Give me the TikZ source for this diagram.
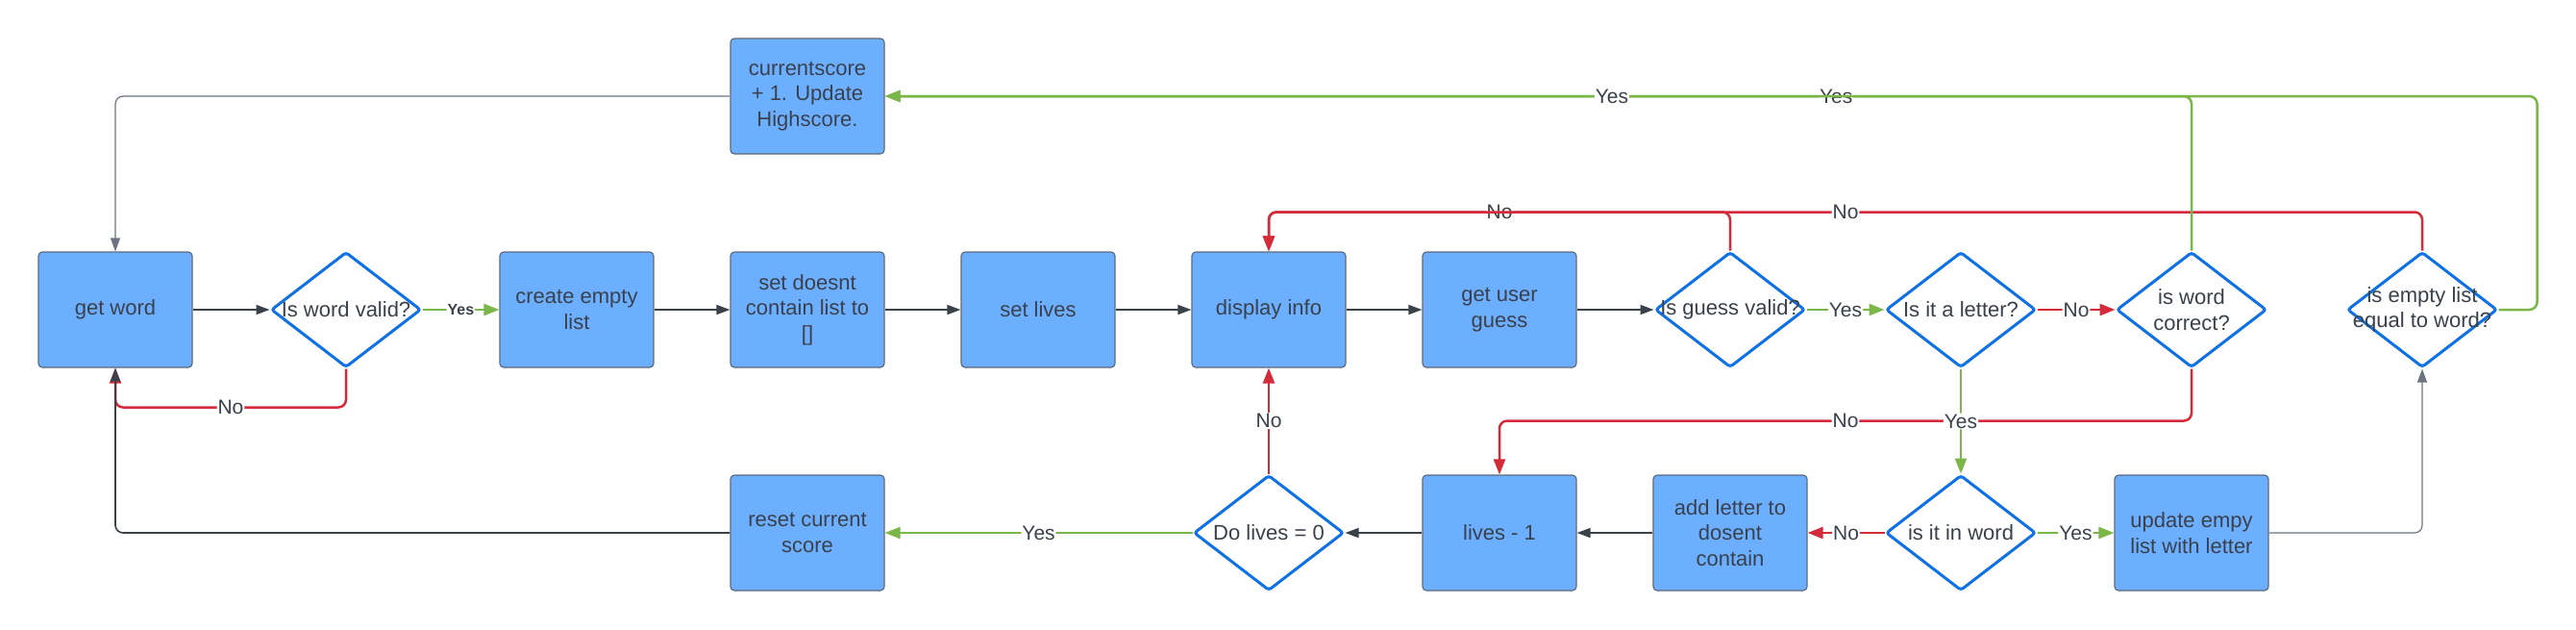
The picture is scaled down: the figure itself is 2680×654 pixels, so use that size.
\documentclass[tikz,border=0pt]{standalone}
\usepackage{fontspec}
\setmainfont{Liberation Sans}
\usetikzlibrary{shapes.geometric,arrows.meta}
\definecolor{boxblue}{HTML}{6CAEFF}
\definecolor{boxedge}{HTML}{5E6B7A}
\definecolor{decblue}{HTML}{1071E5}
\definecolor{inkgrey}{HTML}{3A414A}
\definecolor{linegrey}{HTML}{6B7480}
\definecolor{yesgreen}{HTML}{7AB648}
\definecolor{nored}{HTML}{D42A3A}

\begin{document}
\begin{tikzpicture}[x=1pt,y=-1pt,>={Triangle[length=14pt,width=10pt]},
	process/.style={draw=boxedge,line width=1.2pt,fill=boxblue,rounded corners=4pt,minimum width=160pt,minimum height=120pt,align=center,text=inkgrey,font=\fontsize{22}{26.5}\selectfont},
	decision/.style={diamond,draw=decblue,line width=3pt,fill=white,rounded corners=3pt,minimum width=156pt,minimum height=120pt,inner sep=0pt},
	dtext/.style={align=center,text=inkgrey,font=\fontsize{22}{26.5}\selectfont},
	flow/.style={draw=inkgrey,line width=1.6pt,rounded corners=8pt,->},
	thinflow/.style={draw=linegrey,line width=1.2pt,rounded corners=8pt,->},
	yes/.style={draw=yesgreen,line width=2.5pt,rounded corners=8pt,->,>={Triangle[length=16pt,width=12pt]}},
	no/.style={draw=nored,line width=2.5pt,rounded corners=8pt,->,>={Triangle[length=16pt,width=12pt]}},
	tag/.style={fill=white,inner sep=1pt,text=inkgrey,font=\fontsize{21}{25}\selectfont}]
	
	\useasboundingbox (0,0) rectangle (2680,654);
	
	% Draw the top row
	\node[process] (score) at (840,100) {currentscore\\+ 1. Update\\Highscore.};
	
	% Draw the middle row
	\node[process] (getword) at (120,322) {get word};
	\node[decision,label={[dtext]center:Is word valid?}] (wordvalid) at (360,322) {};
	\node[process] (createlist) at (600,322) {create empty\\list};
	\node[process] (setlist) at (840,322) {set doesnt\\contain list to\\{[]}};
	\node[process] (setlives) at (1080,322) {set lives};
	\node[process] (display) at (1320,322) {display info};
	\node[process] (guess) at (1560,322) {get user\\guess};
	\node[decision,label={[dtext]center:Is guess valid?}] (guessvalid) at (1800,322) {};
	\node[decision,label={[dtext]center:Is it a letter?}] (letter) at (2040,322) {};
	\node[decision,label={[dtext]center:{is word\\correct?}}] (wordcorrect) at (2280,322) {};
	\node[decision,label={[dtext]center:{is empty list\\equal to word?}}] (emptyequal) at (2520,322) {};
	
	% Draw the bottom row
	\node[process] (reset) at (840,554) {reset current\\score};
	\node[decision,label={[dtext]center:Do lives = 0}] (livescheck) at (1320,554) {};
	\node[process] (livesminus) at (1560,554) {lives - 1};
	\node[process] (addletter) at (1800,554) {add letter to\\dosent\\contain};
	\node[decision,label={[dtext]center:is it in word}] (inword) at (2040,554) {};
	\node[process] (update) at (2280,554) {update empy\\list with letter};
	
	% Draw the No branches
	\draw[no] (wordvalid.south) -- ++(0,40) -| node[tag,pos=0.25] (no1) {No} (getword.south);
	\draw[no] (guessvalid.north) -- ++(0,-40) -| node[tag,pos=0.25] (no2) {No} (display.north);
	\draw[no] (emptyequal.north) -- ++(0,-40) -| node[tag,pos=0.25] (no3) {No} (display.north);
	\draw[no] (livescheck.north) -- node[tag] (no4) {No} (display.south);
	\draw[no] (wordcorrect.south) -- ++(0,54) -| node[tag,pos=0.25] (no5) {No} (livesminus.north);
	\draw[no] (letter.east) -- node[tag] (no6) {No} (wordcorrect.west);
	\draw[no] (inword.west) -- node[tag] (no7) {No} (addletter.east);
	
	% Draw the plain arrows
	\draw[flow] (getword.east) -- (wordvalid.west);
	\draw[flow] (createlist.east) -- (setlist.west);
	\draw[flow] (setlist.east) -- (setlives.west);
	\draw[flow] (setlives.east) -- (display.west);
	\draw[flow] (display.east) -- (guess.west);
	\draw[flow] (guess.east) -- (guessvalid.west);
	\draw[flow] (addletter.west) -- (livesminus.east);
	\draw[flow] (livesminus.west) -- (livescheck.east);
	\draw[flow] (reset.west) -| (getword.south);
	\draw[thinflow] (score.west) -| (getword.north);
	\draw[thinflow] (update.east) -| (emptyequal.south);
	
	% Draw the Yes branches
	\draw[yes] (wordvalid.east) -- node[tag,font=\bfseries\fontsize{16}{19}\selectfont] (yes1) {Yes} (createlist.west);
	\draw[yes] (guessvalid.east) -- node[tag] (yes2) {Yes} (letter.west);
	\draw[yes] (wordcorrect.north) |- node[tag,pos=0.636] (yes3) {Yes} (score.east);
	\draw[yes] (emptyequal.east) -- ++(40,0) |- node[tag,pos=0.78] (yes4) {Yes} (score.east);
	\draw[yes] (letter.south) -- node[tag] (yes5) {Yes} (inword.north);
	\draw[yes] (inword.east) -- node[tag] (yes6) {Yes} (update.west);
	\draw[yes] (livescheck.west) -- node[tag] (yes7) {Yes} (reset.east);

\end{tikzpicture}
\end{document}
